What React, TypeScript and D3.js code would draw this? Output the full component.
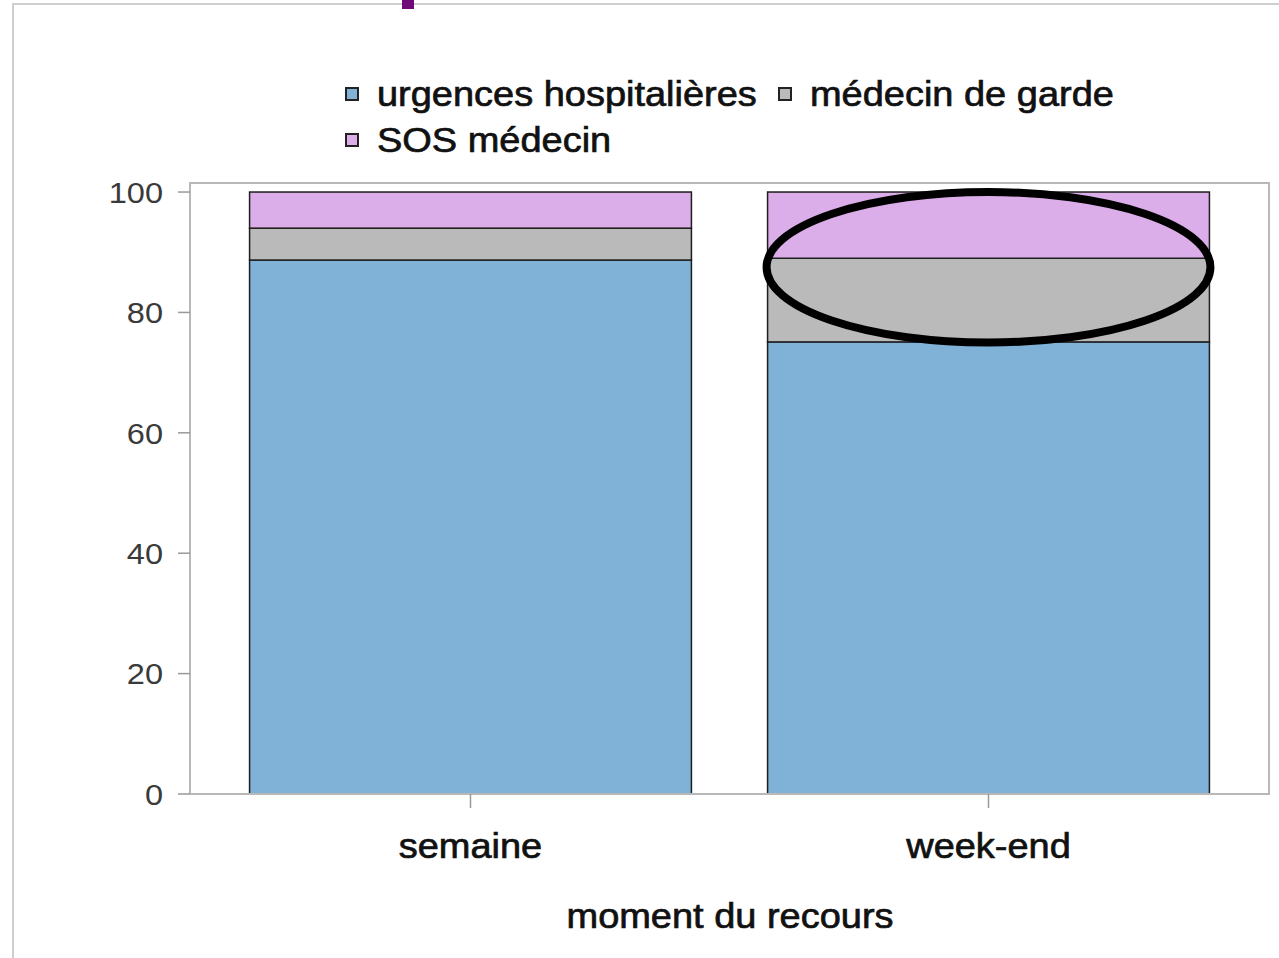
import * as d3 from "d3";
import React from "react";

const categories = ["semaine", "week-end"];
const seriesNames = ["urgences hospitalières", "médecin de garde", "SOS médecin"];
const urgences = [88.7, 75.1];
const garde = [5.3, 13.9];
const sos = [6.0, 11.0];
const yTicks = [0, 20, 40, 60, 80, 100];

const colors = ["#7fb2d6", "#bababa", "#dbaee9"];
const font = "'Liberation Sans', Arial, sans-serif";
// the source picture is slightly stretched horizontally
const sx = 1.085;

const Txt = ({ x, y, anchor = "start", size, fill = "#111", dy = "0", heavy = false, children }: any) => (
  <text
    transform={`translate(${x},${y}) scale(${sx},1)`}
    dy={dy}
    textAnchor={anchor}
    fontSize={size}
    fill={fill}
    stroke={heavy ? fill : "none"}
    strokeWidth={heavy ? 0.7 : 0}
  >
    {children}
  </text>
);

const App = () => {
  const width = 1279;
  const height = 958;
  const plot = { left: 190, right: 1269, top: 183, bottom: 794 };

  const x = d3
    .scaleBand()
    .domain(categories)
    .range([plot.left, plot.right])
    .paddingInner(0.147)
    .paddingOuter(0.115);

  const y = d3.scaleLinear().domain([0, 101.5]).range([plot.bottom, plot.top]);

  const rows = categories.map((c, i) => ({
    cat: c,
    urgences: urgences[i],
    garde: garde[i],
    sos: sos[i],
  }));
  const stack = d3.stack().keys(["urgences", "garde", "sos"])(rows as any);

  const we = x("week-end")! + x.bandwidth() / 2;

  // legend layout
  const legend = [
    { name: seriesNames[0], color: colors[0], x: 346, y: 88 },
    { name: seriesNames[1], color: colors[1], x: 779, y: 88 },
    { name: seriesNames[2], color: colors[2], x: 346, y: 134 },
  ];

  return (
    <svg
      width={width}
      height={height}
      style={{ position: "absolute", left: 0, top: 0, background: "#fff" }}
      fontFamily={font}
    >
      {/* outer frame */}
      <path d={`M13,${height} V4 H${width}`} fill="none" stroke="#cfcfcf" strokeWidth={2} />
      <rect x={402} y={0} width={12} height={9} fill="#6e0a78" />

      {/* plot frame */}
      <rect
        x={plot.left}
        y={plot.top}
        width={plot.right - plot.left}
        height={plot.bottom - plot.top}
        fill="none"
        stroke="#b8b8b8"
        strokeWidth={2}
      />

      {/* bars */}
      {stack.map((s, si) =>
        s.map((d, i) => (
          <rect
            key={`${si}-${i}`}
            x={x(categories[i])}
            y={y(d[1])}
            width={x.bandwidth()}
            height={y(d[0]) - y(d[1])}
            fill={colors[si]}
            stroke="#1e1e1e"
            strokeWidth={1.5}
          />
        ))
      )}
      <line x1={plot.left} x2={plot.right} y1={plot.bottom} y2={plot.bottom} stroke="#b8b8b8" strokeWidth={2} />

      {/* y axis */}
      {yTicks.map((t) => (
        <g key={t}>
          <line x1={plot.left - 12} x2={plot.left} y1={y(t)} y2={y(t)} stroke="#999" strokeWidth={1.5} />
          <Txt x={plot.left - 27} y={y(t)} dy="0.36em" anchor="end" size={30} fill="#3a3a3a">
            {t}
          </Txt>
        </g>
      ))}

      {/* x axis */}
      {categories.map((c) => {
        const cx = x(c)! + x.bandwidth() / 2;
        return (
          <g key={c}>
            <line x1={cx} x2={cx} y1={plot.bottom} y2={plot.bottom + 14} stroke="#999" strokeWidth={1.5} />
            <Txt x={cx} y={858} anchor="middle" size={35} heavy>
              {c}
            </Txt>
          </g>
        );
      })}
      <Txt x={730} y={928} anchor="middle" size={35} heavy>
        moment du recours
      </Txt>

      {/* legend */}
      {legend.map((l) => (
        <g key={l.name}>
          <rect x={l.x} y={l.y} width={12} height={12} fill={l.color} stroke="#222" strokeWidth={2} />
          <Txt x={l.x + 31} y={l.y + 18} size={35} heavy>
            {l.name}
          </Txt>
        </g>
      ))}

      {/* annotation */}
      <ellipse
        cx={we}
        cy={(y(100) + y(75)) / 2}
        rx={x.bandwidth() / 2 + 1}
        ry={(y(75) - y(100)) / 2}
        fill="none"
        stroke="#000"
        strokeWidth={8}
      />
    </svg>
  );
};

export default App;
